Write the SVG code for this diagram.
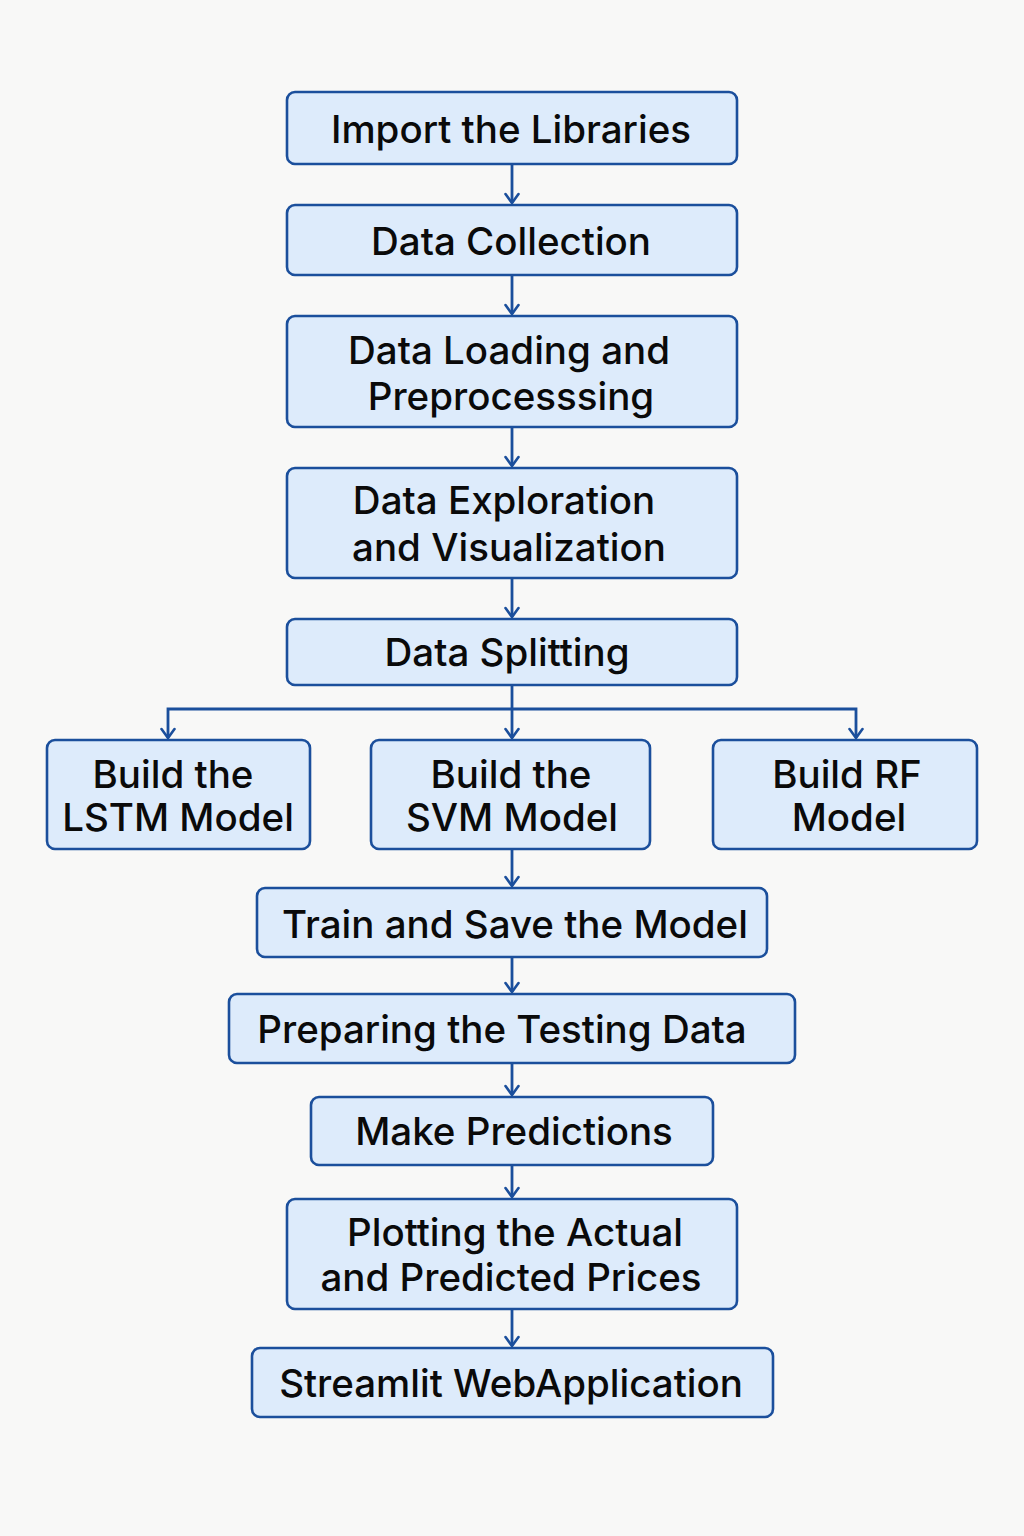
<svg xmlns="http://www.w3.org/2000/svg" width="1024" height="1536" viewBox="0 0 1024 1536">
<defs>
<style>
.box{fill:#ddebfb;stroke:#1b4f9c;stroke-width:2.6}
.t{font-family:Inter,"Noto Sans","Liberation Sans",sans-serif;font-size:38.5px;font-weight:500;fill:#0a0a0a;text-anchor:middle;dominant-baseline:central}
.c{fill:none;stroke:#1b4f9c;stroke-width:2.8}
</style>
<marker id="ah" viewBox="0 0 16 16" refX="14" refY="8" markerWidth="16" markerHeight="16" markerUnits="userSpaceOnUse" orient="auto-start-reverse">
<path d="M5,1.5 L14,8 L5,14.5" fill="none" stroke="#1b4f9c" stroke-width="2.6" stroke-linecap="round" stroke-linejoin="round"/>
</marker>
</defs>
<rect width="1024" height="1536" fill="#f8f8f7"/>
<g id="connectors">
<line class="c" x1="512" y1="164" x2="512" y2="203" marker-end="url(#ah)"/>
<line class="c" x1="512" y1="275" x2="512" y2="314" marker-end="url(#ah)"/>
<line class="c" x1="512" y1="427" x2="512" y2="466" marker-end="url(#ah)"/>
<line class="c" x1="512" y1="578" x2="512" y2="617" marker-end="url(#ah)"/>
<line class="c" x1="512" y1="685" x2="512" y2="738" marker-end="url(#ah)"/>
<path class="c" d="M168,738 L168,709 L856,709 L856,738" marker-start="url(#ah)" marker-end="url(#ah)"/>
<line class="c" x1="512" y1="849" x2="512" y2="886" marker-end="url(#ah)"/>
<line class="c" x1="512" y1="957" x2="512" y2="992" marker-end="url(#ah)"/>
<line class="c" x1="512" y1="1063" x2="512" y2="1095" marker-end="url(#ah)"/>
<line class="c" x1="512" y1="1165" x2="512" y2="1197" marker-end="url(#ah)"/>
<line class="c" x1="512" y1="1309" x2="512" y2="1346" marker-end="url(#ah)"/>
</g>
<g id="n1"><rect class="box" x="287" y="92" width="450" height="72" rx="8"/><text class="t" x="511" y="129">Import the Libraries</text></g>
<g id="n2"><rect class="box" x="287" y="205" width="450" height="70" rx="8"/><text class="t" x="511" y="241">Data Collection</text></g>
<g id="n3"><rect class="box" x="287" y="316" width="450" height="111" rx="8"/><text class="t" x="509" y="350">Data Loading and</text><text class="t" x="511" y="396">Preprocesssing</text></g>
<g id="n4"><rect class="box" x="287" y="468" width="450" height="110" rx="8"/><text class="t" x="504" y="500">Data Exploration</text><text class="t" x="509" y="547">and Visualization</text></g>
<g id="n5"><rect class="box" x="287" y="619" width="450" height="66" rx="8"/><text class="t" x="507" y="652">Data Splitting</text></g>
<g id="n6"><rect class="box" x="47" y="740" width="263" height="109" rx="8"/><text class="t" x="173" y="774">Build the</text><text class="t" x="178" y="817">LSTM Model</text></g>
<g id="n7"><rect class="box" x="371" y="740" width="279" height="109" rx="8"/><text class="t" x="511" y="774">Build the</text><text class="t" x="512" y="817">SVM Model</text></g>
<g id="n8"><rect class="box" x="713" y="740" width="264" height="109" rx="8"/><text class="t" x="847" y="774">Build RF</text><text class="t" x="849" y="817">Model</text></g>
<g id="n9"><rect class="box" x="257" y="888" width="510" height="69" rx="8"/><text class="t" x="515" y="924">Train and Save the Model</text></g>
<g id="n10"><rect class="box" x="229" y="994" width="566" height="69" rx="8"/><text class="t" x="502" y="1029">Preparing the Testing Data</text></g>
<g id="n11"><rect class="box" x="311" y="1097" width="402" height="68" rx="8"/><text class="t" x="514" y="1131">Make Predictions</text></g>
<g id="n12"><rect class="box" x="287" y="1199" width="450" height="110" rx="8"/><text class="t" x="515" y="1232">Plotting the Actual</text><text class="t" x="511" y="1277">and Predicted Prices</text></g>
<g id="n13"><rect class="box" x="252" y="1348" width="521" height="69" rx="8"/><text class="t" x="511" y="1383">Streamlit WebApplication</text></g>
</svg>
